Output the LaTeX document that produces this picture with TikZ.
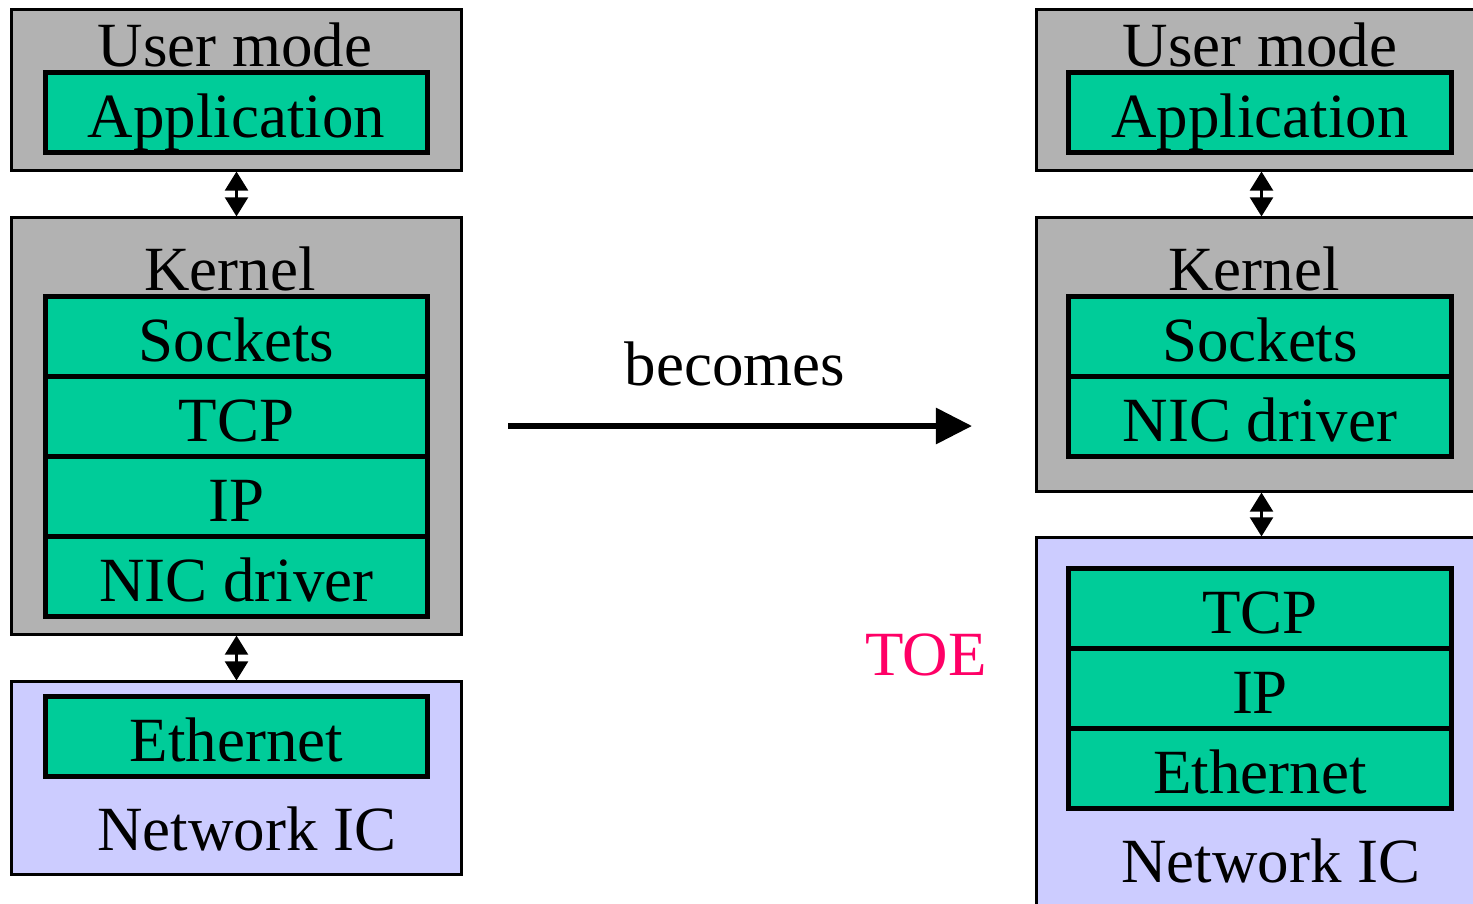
\documentclass[tikz,border=0pt]{standalone}
\usepackage{fontspec}
\setmainfont{Liberation Serif}
\usepackage{tikz}
\usetikzlibrary{arrows.meta,positioning}
\definecolor{layergray}{HTML}{B2B2B2}
\definecolor{layergreen}{HTML}{00CC99}
\definecolor{niclav}{HTML}{CCCCFF}
\definecolor{toered}{HTML}{FF0066}
\tikzset{every node/.append style={font=\fontsize{17.9}{21}\selectfont}}
\begin{document}
\begin{tikzpicture}[x=0.01cm,y=-0.01cm,
  outerbox/.style={draw,line width=0.85pt,fill=#1,minimum width=4.5cm,inner sep=0pt},
  layerbox/.style={draw,line width=1.45pt,fill=layergreen,minimum width=3.82cm,minimum height=0.8cm,
                   inner sep=0pt,outer sep=0pt,text height=0.62cm,text depth=0.13cm},
  lab/.style={anchor=base,inner sep=0pt},
  dbl/.style={{Triangle[length=0.19cm,width=0.23cm]}-{Triangle[length=0.19cm,width=0.23cm]},line width=0.6pt}]
\useasboundingbox (0,0) rectangle (1473,903);
% left: classic stack
\node[outerbox=layergray,minimum height=1.6cm] (umL) at (236.5,90) {};
\node[outerbox=layergray,minimum height=4.16cm] (kerL) at (236.5,426) {};
\node[outerbox=niclav,minimum height=1.92cm] (netL) at (236.5,778) {};
\node[lab] (umLlab) at (235,66) {User mode};
\node[layerbox] (appL) at (236.5,112.5) {Application};
\node[lab] (kerLlab) at (230,290) {Kernel};
\node[layerbox] (sockL) at (236.5,336.5) {Sockets};
\node[layerbox,below=0pt of sockL] (tcpL) {TCP};
\node[layerbox,below=0pt of tcpL] (ipL) {IP};
\node[layerbox,below=0pt of ipL] (nicL) {NIC driver};
\node[layerbox] (ethL) at (236.5,736.5) {Ethernet};
\node[lab] (netLlab) at (247,850) {Network IC};
\draw[dbl] (umL.south) -- (kerL.north);
\draw[dbl] (kerL.south) -- (netL.north);
% middle
\coordinate (bcS) at (508,426); \coordinate (bcE) at (972,426);
\draw[line width=1.7pt,-{Triangle[length=0.36cm,width=0.35cm]}] (bcS) -- (bcE);
\node[lab] (becomes) at (735,385) {becomes};
\node[lab,text=toered] (toe) at (926,675) {TOE};
% right: offloaded stack
\node[outerbox=layergray,minimum height=1.6cm] (umR) at (1261.5,90) {};
\node[outerbox=layergray,minimum height=2.73cm] (kerR) at (1261.5,354.5) {};
\node[outerbox=niclav,minimum height=3.72cm] (netR) at (1261.5,724) {};
\node[lab] (umRlab) at (1260,66) {User mode};
\node[layerbox] (appR) at (1260,112.5) {Application};
\node[lab] (kerRlab) at (1254,290) {Kernel};
\node[layerbox] (sockR) at (1260,336.5) {Sockets};
\node[layerbox,below=0pt of sockR] (nicR) {NIC driver};
\node[layerbox] (tcpR) at (1260,608.5) {TCP};
\node[layerbox,below=0pt of tcpR] (ipR) {IP};
\node[layerbox,below=0pt of ipR] (ethR) {Ethernet};
\node[lab] (netRlab) at (1271,882) {Network IC};
\draw[dbl] (umR.south) -- (kerR.north);
\draw[dbl] (kerR.south) -- (netR.north);
\end{tikzpicture}
\end{document}
